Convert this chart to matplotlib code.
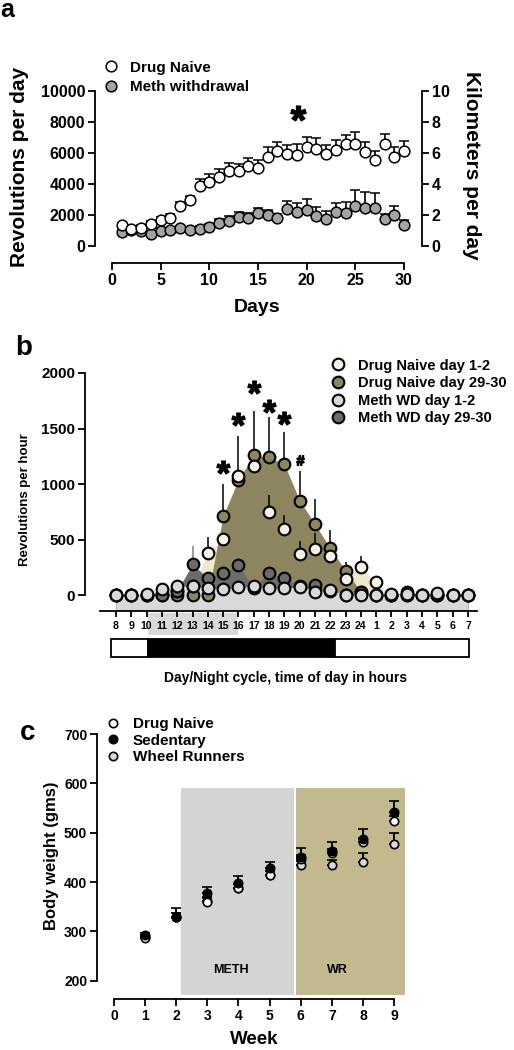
import numpy as np
import matplotlib
matplotlib.use('Agg')
import matplotlib.pyplot as plt
import matplotlib.transforms as mtransforms
from matplotlib.patches import Rectangle
from matplotlib.lines import Line2D
from matplotlib.textpath import TextPath
from matplotlib.font_manager import FontProperties
from matplotlib.path import Path

plt.rcParams['font.family'] = ['Liberation Sans', 'DejaVu Sans']
plt.rcParams['font.weight'] = 'bold'
plt.rcParams['axes.linewidth'] = 1.3

# ---- panel a: daily wheel running ----
days = np.arange(1, 31)
naive_mean = [1330, 1070, 1180, 1420, 1650, 1800, 2580, 2960, 3880, 4160,
              4460, 4850, 4810, 5160, 5030, 5710, 6140, 5940, 5860, 6370,
              6290, 5940, 6180, 6610, 6610, 6050, 5550, 6590, 5740, 6150]
naive_sem = [150, 150, 150, 200, 200, 250, 250, 280, 450, 500,
             480, 500, 500, 520, 520, 680, 580, 600, 700, 670,
             680, 600, 640, 540, 750, 670, 600, 660, 660, 625]
meth_mean = [880, 1030, 990, 750, 970, 1030, 1160, 1030, 1120, 1220,
             1500, 1630, 1890, 1800, 2130, 2000, 1800, 2380, 2190, 2320,
             1950, 1760, 2170, 2150, 2580, 2430, 2470, 1740, 2000, 1355]
meth_sem = [100, 100, 100, 100, 120, 150, 150, 150, 200, 200,
            250, 300, 300, 350, 340, 300, 250, 520, 600, 730,
            550, 500, 580, 700, 1030, 1070, 970, 300, 580, 300]
star_a = (19.1, 8580)

# ---- panel b: hourly profile ----
hours = ['8', '9', '10', '11', '12', '13', '14', '15', '16', '17', '18', '19',
         '20', '21', '22', '23', '24', '1', '2', '3', '4', '5', '6', '7']
naive_d1 = [0, 0, 0, 5, 40, 80, 378, 502, 1072, 1162, 750, 592,
            369, 411, 355, 147, 249, 117, 0, 0, 0, 0, 0, 0]
naive_d1_err = [0, 0, 0, 0, 0, 0, 145, 0, 360, 0, 150, 130,
                120, 150, 0, 0, 105, 0, 0, 0, 0, 0, 0, 0]
naive_d29 = [0, 0, 0, 0, 0, 0, 0, 715, 1040, 1261, 1240, 1180,
             850, 640, 420, 219, 30, 0, 0, 0, 0, 0, 0, 0]
naive_d29_err = [0, 0, 0, 0, 0, 0, 0, 285, 0, 400, 360, 290,
                 267, 225, 165, 80, 0, 0, 0, 0, 0, 0, 0, 0]
meth_d1 = [0, 0, 10, 55, 84, 84, 66, 54, 70, 80, 65, 60,
           75, 30, 45, 0, 0, 0, 7, 10, 0, 20, 0, 0]
meth_d29 = [0, 0, 0, 0, 40, 279, 150, 201, 270, 60, 201, 150,
            80, 90, 40, 0, 30, 0, 0, 30, 0, 0, 0, 0]
meth_d29_err = [0, 0, 0, 0, 0, 160, 0, 70, 145, 0, 60, 60,
                0, 0, 0, 0, 0, 0, 0, 0, 0, 0, 0, 0]
star_b_idx = [7, 8, 9, 10, 11]
star_b_y = [1156, 1585, 1877, 1705, 1597]
hash_b = (12, 1216)

# ---- panel c: body weight ----
weeks = np.arange(1, 10)
naive_wt = [286, 330, 360, 387, 414, 447, 458, 482, 524]
naive_wt_err = [4, 8, 8, 8, 8, 8, 8, 8, 10]
sed_wt = [292, 330, 377, 397, 428, 451, 463, 487, 541]
sed_wt_err = [4, 17, 12, 15, 13, 17, 18, 20, 23]
wr_wt = [288, 329, 362, 388, 414, 434, 434, 441, 478]
wr_wt_err = [4, 8, 8, 8, 8, 8, 10, 17, 21]

W, H = 514, 1050
fig = plt.figure(figsize=(W / 100, H / 100), dpi=100)


def box(left, top, right, bottom):
    return fig.add_axes([left / W, 1 - bottom / H, (right - left) / W, (bottom - top) / H])


def glyph(ch):
    # glyph outline as a centred marker path (closed polygons only, no dummy vertices)
    tp = TextPath((0, 0), ch, prop=FontProperties(family='Liberation Sans', weight='bold'))
    polys = tp.to_polygons()
    allv = np.concatenate(polys)
    c = (allv.min(0) + allv.max(0)) / 2
    return Path.make_compound_path(*[Path(p - c, closed=True) for p in polys])


def ftext(x, y, s, **kw):
    fig.text(x / W, 1 - y / H, s, **kw)


def flegend(handles, labels, x0, yc, fs, pad, spacing):
    fig.legend(handles, labels, loc='center left', bbox_to_anchor=(x0 / W, 1 - yc / H),
               bbox_transform=fig.transFigure, frameon=False, borderpad=0, borderaxespad=0,
               handlelength=1.0, handletextpad=pad, labelspacing=spacing, fontsize=fs)


star = glyph('*')
hashm = glyph('#')

# panel a
ax = box(95, 91, 422, 263)
ax.set_xlim(-1.75, 31.85)
ax.set_ylim(-1097, 10000)
ax.errorbar(days, meth_mean, yerr=[np.zeros(30), meth_sem], fmt='o', ms=7.7,
            mfc='#a3a3a3', mec='black', mew=1.1, ecolor='black', elinewidth=1.2,
            capsize=3.6, capthick=1.2, zorder=3)
ax.errorbar(days, naive_mean, yerr=[np.zeros(30), naive_sem], fmt='o', ms=7.7,
            mfc='white', mec='black', mew=1.1, ecolor='black', elinewidth=1.2,
            capsize=3.6, capthick=1.2, zorder=4)
ax.plot([star_a[0]], [star_a[1]], ls='none', marker=star, ms=11, color='black')
ax.spines['top'].set_visible(False)
ax.spines['right'].set_visible(False)
ax.spines['left'].set_bounds(0, 10000)
ax.spines['bottom'].set_bounds(0, 30)
ax.set_yticks(np.arange(0, 10001, 2000))
ax.set_xticks(np.arange(0, 31, 5))
ax.tick_params(direction='out', length=5, width=1.3, labelsize=11.5, pad=2)
ax2 = ax.twinx()
ax2.set_ylim(-1.097, 10)
for s in ['top', 'left', 'bottom']:
    ax2.spines[s].set_visible(False)
ax2.spines['right'].set_bounds(0, 10)
ax2.set_yticks(np.arange(0, 11, 2))
ax2.tick_params(direction='out', length=5, width=1.3, labelsize=11.5, pad=2)
ftext(20, 167, 'Revolutions per day', rotation=90, ha='center', va='center', fontsize=15)
ftext(472, 165, 'Kilometers per day', rotation=270, ha='center', va='center', fontsize=15)
ftext(257, 308, 'Days', ha='center', va='center', fontsize=14)
ftext(0, 17, 'a', fontsize=18, va='baseline')
flegend([Line2D([], [], ls='none', marker='o', ms=7.7, mfc='white', mec='black', mew=1.1),
         Line2D([], [], ls='none', marker='o', ms=7.7, mfc='#a3a3a3', mec='black', mew=1.1)],
        ['Drug Naive', 'Meth withdrawal'], 103.4, 77.5, 11, 0.74, 0.39)

# panel b
c_cream, c_khaki, c_lgray, c_dgray = '#efe8cf', '#8d8460', '#d9d9d9', '#6b6b6b'
m_cream = '#f7f3e4'
ax = box(85, 373, 477, 611)
x = np.arange(len(hours))
ax.set_xlim(-2.03, 23.59)
ax.set_ylim(-144, 2000)
base = -130
ax.fill_between(x, base, naive_d1, color=c_cream, lw=0, zorder=1)
ax.fill_between(x, base, naive_d29, color=c_khaki, lw=0, zorder=1.1)
ax.fill_between(x, base, meth_d29, color=c_dgray, lw=0, zorder=1.2)
ax.fill_between(x, base, meth_d1, color=c_lgray, lw=0, zorder=1.3)
mk = dict(fmt='o', ms=8.4, mec='black', mew=1.5, elinewidth=1.1, capsize=0)
ax.errorbar(x, naive_d29, yerr=[np.zeros(24), naive_d29_err], mfc=c_khaki, ecolor='black', zorder=3, **mk)
ax.errorbar(x, naive_d1, yerr=[np.zeros(24), naive_d1_err], mfc=m_cream, ecolor='black', zorder=3.2, **mk)
ax.errorbar(x, meth_d29, yerr=[np.zeros(24), meth_d29_err], mfc=c_dgray, ecolor='#808080', zorder=3.4, **mk)
ax.errorbar(x, meth_d1, yerr=[np.zeros(24), np.zeros(24)], mfc=c_lgray, ecolor='#808080', zorder=3.6, **mk)
ax.plot(star_b_idx, star_b_y, ls='none', marker=star, ms=9.5, color='black', zorder=5)
ax.plot([hash_b[0]], [hash_b[1]], ls='none', marker=hashm, ms=7, color='black', zorder=5)
ax.spines['top'].set_visible(False)
ax.spines['right'].set_visible(False)
ax.spines['left'].set_bounds(0, 2000)
ax.spines['bottom'].set_bounds(-1.045, 23.59)
ax.set_yticks(np.arange(0, 2001, 500))
ax.set_xticks(x)
ax.set_xticklabels(hours)
ax.tick_params(axis='y', direction='out', length=5, width=1.3, labelsize=11, pad=2)
ax.tick_params(axis='x', direction='out', length=4, width=1.3, labelsize=7.6, pad=3)
tr = mtransforms.blended_transform_factory(ax.transData, ax.transAxes)
ax.add_patch(Rectangle((2.1, -0.101), 5.9, 0.093, transform=tr, fc=c_lgray, ec='none',
                       clip_on=False, zorder=0.5))
cycle = [(-0.3, 2.1, 'white'), (2.1, 14.3, 'black'), (14.3, 23.05, 'white')]
for a0, a1, col in cycle:
    ax.add_patch(Rectangle((a0, -0.193), a1 - a0, 0.075, transform=tr, fc=col, ec='black',
                           lw=1.3, clip_on=False))
ftext(25, 500, 'Revolutions per hour', rotation=90, ha='center', va='center', fontsize=9.5)
ftext(286, 678, 'Day/Night cycle, time of day in hours', ha='center', va='center', fontsize=10)
ftext(15, 355, 'b', fontsize=20, va='baseline')
flegend([Line2D([], [], ls='none', marker='o', ms=8.4, mfc=c, mec='black', mew=1.5)
         for c in [m_cream, c_khaki, c_lgray, c_dgray]],
        ['Drug Naive day 1-2', 'Drug Naive day 29-30', 'Meth WD day 1-2', 'Meth WD day 29-30'],
        330.7, 392, 10.5, 0.87, 0.25)

# panel c
ax = box(97, 734, 410, 999)
ax.set_xlim(-0.546, 9.514)
ax.set_ylim(162.9, 700)
ax.add_patch(Rectangle((2.15, 171), 3.63, 420, fc='#d4d4d4', ec='none', zorder=0.5))
ax.add_patch(Rectangle((5.85, 171), 3.5, 420, fc='#c2b98e', ec='none', zorder=0.5, clip_on=False))
ax.text(3.75, 222, 'METH', ha='center', va='center', fontsize=9)
ax.text(7.17, 222, 'WR', ha='center', va='center', fontsize=9)
ek = dict(fmt='o', ms=6, mec='black', mew=1.2, ecolor='black', elinewidth=1.4,
          capsize=3.6, capthick=1.4)
ax.errorbar(weeks, wr_wt, yerr=[np.zeros(9), wr_wt_err], mfc='#d9d9d9', zorder=3, **ek)
ax.errorbar(weeks, naive_wt, yerr=[np.zeros(9), naive_wt_err], mfc='white', zorder=3.2, **ek)
ax.errorbar(weeks, sed_wt, yerr=[np.zeros(9), sed_wt_err], mfc='black', zorder=3.4, **ek)
ax.spines['top'].set_visible(False)
ax.spines['right'].set_visible(False)
ax.spines['left'].set_bounds(200, 700)
ax.spines['bottom'].set_bounds(0, 9)
ax.set_yticks(np.arange(200, 701, 100))
ax.set_xticks(np.arange(0, 10))
ax.tick_params(direction='out', length=5, width=1.3, labelsize=10, pad=2)
ftext(52, 856, 'Body weight (gms)', rotation=90, ha='center', va='center', fontsize=12)
ftext(254, 1040, 'Week', ha='center', va='center', fontsize=13.5)
ftext(20, 740, 'c', fontsize=20, va='baseline')
flegend([Line2D([], [], ls='none', marker='o', ms=6, mfc=c, mec='black', mew=1.2)
         for c in ['white', 'black', '#d9d9d9']],
        ['Drug Naive', 'Sedentary', 'Wheel Runners'], 105.4, 740.5, 11, 0.81, 0.16)

fig.savefig('out.png', dpi=100)
